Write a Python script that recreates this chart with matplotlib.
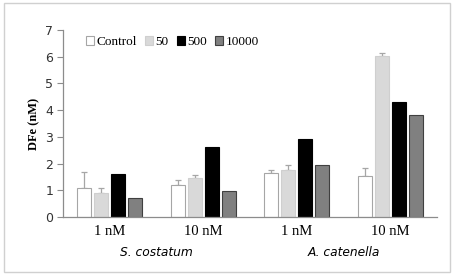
import numpy as np
import matplotlib
matplotlib.use('Agg')
import matplotlib.pyplot as plt
from matplotlib.patches import Rectangle

groups  = ['1 nM', '10 nM', '1 nM', '10 nM']
species = ['S. costatum', 'A. catenella']
series  = ['Control', '50', '500', '10000']

control     = [1.08, 1.20, 1.65, 1.55]
control_err = [0.60, 0.20, 0.10, 0.30]
s50         = [0.88, 1.46, 1.75, 6.03]
s50_err     = [0.22, 0.12, 0.21, 0.12]
s500        = [1.62, 2.63, 2.91, 4.30]
s10000      = [0.71, 0.98, 1.96, 3.80]

values = [control, s50, s500, s10000]
errors = [control_err, s50_err, None, None]
faces  = ['white', '#d9d9d9', 'black', '#808080']
edges  = ['#a6a6a6', '#cfcfcf', 'black', '#404040']

fig = plt.figure(figsize=(4.54, 2.75), dpi=100)
fig.patches.append(Rectangle((0.009, 0.011), 0.982, 0.978, transform=fig.transFigure,
                             fill=False, edgecolor='#d0d0d0', linewidth=1))
ax = fig.add_axes([0.139, 0.211, 0.824, 0.68])

x = np.arange(len(groups))
w = 0.15
step = 0.182
for i, (vals, err, fc, ec, lab) in enumerate(zip(values, errors, faces, edges, series)):
    pos = x + (i - 1.5) * step
    ax.bar(pos, vals, width=w, color=fc, edgecolor=ec, linewidth=0.8, label=lab, zorder=2)
    if err is not None:
        ax.errorbar(pos, vals, yerr=[np.zeros(len(err)), err], fmt='none',
                    ecolor='#a6a6a6', elinewidth=0.9, capsize=2.5, capthick=0.9, zorder=1)

ax.set_xlim(-0.5, 3.5)
ax.set_ylim(0, 7)
ax.set_yticks(range(8))
ax.set_xticks(x)
ax.set_xticklabels(groups, fontfamily='Liberation Serif', fontsize=10.5)
ax.tick_params(axis='x', length=0, pad=6)
ax.tick_params(axis='y', length=4, color='#8c8c8c', labelsize=9, labelcolor='#333333', pad=3)
for s in ['top', 'right']:
    ax.spines[s].set_visible(False)
for s in ['left', 'bottom']:
    ax.spines[s].set_color('#8c8c8c')
    ax.spines[s].set_linewidth(0.9)

ax.set_ylabel('DFe (nM)', fontfamily='Liberation Serif', fontsize=9, fontweight='bold', labelpad=4)

for k, sp in enumerate(species):
    ax.text(0.5 + 2 * k, -1.32, sp, ha='center', va='center', fontstyle='italic', fontsize=8.8)

leg = ax.legend(loc='upper left', bbox_to_anchor=(0.03, 1.03), ncol=4, frameon=False,
                prop={'family': 'Liberation Serif', 'size': 9.5}, handlelength=0.6,
                handleheight=0.6, handletextpad=0.2, columnspacing=0.6)

fig.savefig('out.png', dpi=100)
